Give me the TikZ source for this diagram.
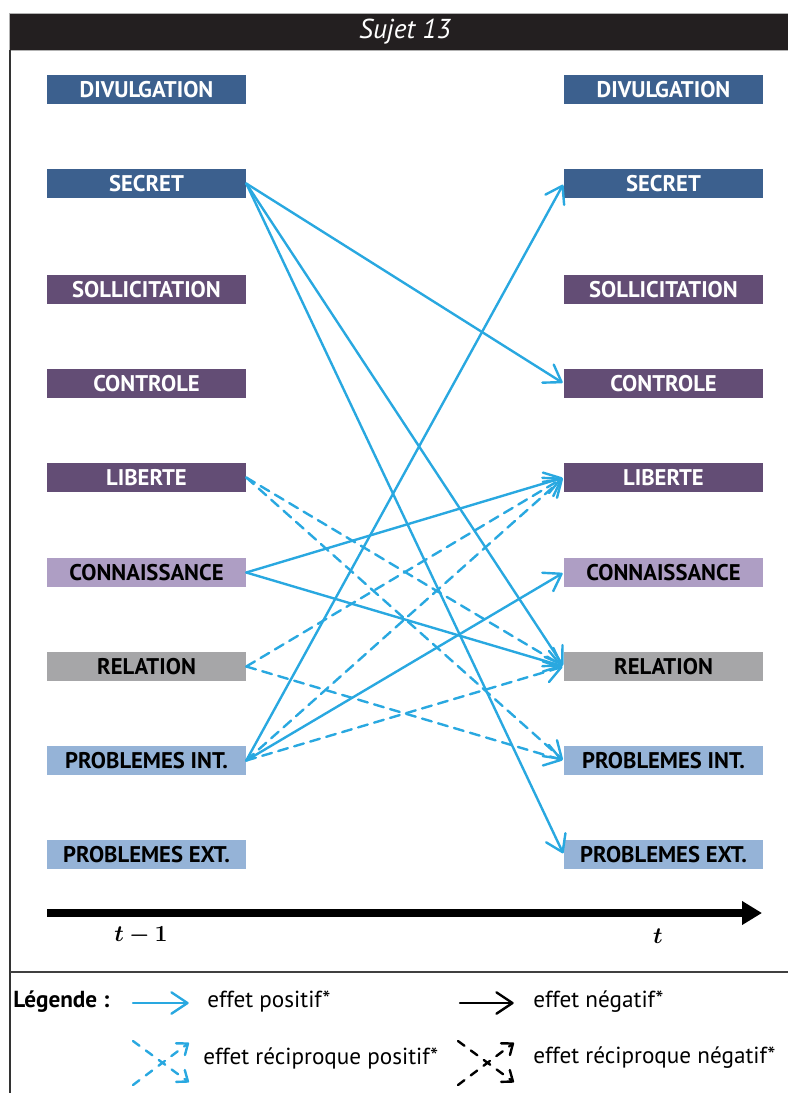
\documentclass[tikz,border=0pt]{standalone}
\usepackage{bm}
\usepackage{fontspec}
\setmainfont{PT Sans}
\usetikzlibrary{arrows.meta}
\definecolor{cDB}{RGB}{60,96,142}
\definecolor{cDP}{RGB}{99,77,117}
\definecolor{cLP}{RGB}{174,158,196}
\definecolor{cGR}{RGB}{166,166,168}
\definecolor{cLB}{RGB}{149,179,215}
\definecolor{cArr}{RGB}{41,168,224}
\definecolor{cHdr}{RGB}{35,31,32}
\begin{document}
\begin{tikzpicture}[x=0.75pt,y=-0.75pt,
  box/.style={minimum width=149.25pt,minimum height=21.75pt,inner sep=0pt,font=\bfseries\fontsize{17}{19}\selectfont},
  bDB/.style={box,fill=cDB,text=white},
  bDP/.style={box,fill=cDP,text=white},
  bLP/.style={box,fill=cLP,text=black},
  bGR/.style={box,fill=cGR,text=black},
  bLB/.style={box,fill=cLB,text=black},
  effpos/.style={draw=cArr,line width=1.8pt,line cap=round,shorten >=1pt,-{Straight Barb[length=12pt,width=16pt,line cap=round,line join=round]}},
  effneg/.style={effpos,draw=black},
  effrec/.style={effpos,dash pattern=on 7.5pt off 5pt},
  effrecneg/.style={effneg,dash pattern=on 7.5pt off 5pt},
  legcross/.style={dash pattern=on 6pt off 6pt,-{Straight Barb[length=7pt,width=11pt,line cap=round,line join=round]}},
  legtext/.style={anchor=west,inner sep=0pt,font=\fontsize{17.4}{19}\selectfont},
  axlabel/.style={font=\fontsize{17}{19}\selectfont}
]
\useasboundingbox (0,0) rectangle (788,1093);
% frame
\filldraw[fill=cHdr,draw=gray!60,line width=0.5pt] (9,13) rectangle (790,50);
\node[text=white,font=\itshape\fontsize{20.5}{22}\selectfont] (title) at (405,32) {Sujet 13};
\draw[line width=1.5pt,draw=black!80] (10,50) -- (10,1095);
\draw[line width=1.5pt,draw=black!75] (10,972) -- (790,972);
% left column
\node[bDB] (lDiv) at (146.5,89.5) {DIVULGATION};
\node[bDB] (lSec) at (146.5,183.5) {SECRET};
\node[bDP] (lSol) at (146.5,289.5) {SOLLICITATION};
\node[bDP] (lCon) at (146.5,383.5) {CONTROLE};
\node[bDP] (lLib) at (146.5,477.5) {LIBERTE};
\node[bLP] (lCnn) at (146.5,572.5) {CONNAISSANCE};
\node[bGR] (lRel) at (146.5,666.5) {RELATION};
\node[bLB] (lPI) at (146.5,760.5) {PROBLEMES INT.};
\node[bLB] (lPE) at (146.5,854.5) {PROBLEMES EXT.};
% right column
\node[bDB] (rDiv) at (663.5,89.5) {DIVULGATION};
\node[bDB] (rSec) at (663.5,183.5) {SECRET};
\node[bDP] (rSol) at (663.5,289.5) {SOLLICITATION};
\node[bDP] (rCon) at (663.5,383.5) {CONTROLE};
\node[bDP] (rLib) at (663.5,477.5) {LIBERTE};
\node[bLP] (rCnn) at (663.5,572.5) {CONNAISSANCE};
\node[bGR] (rRel) at (663.5,666.5) {RELATION};
\node[bLB] (rPI) at (663.5,760.5) {PROBLEMES INT.};
\node[bLB] (rPE) at (663.5,854.5) {PROBLEMES EXT.};
% effects
\draw[effpos] (lSec.east) -- (rCon.west);
\draw[effpos] (lSec.east) -- (rRel.west);
\draw[effpos] (lSec.east) -- (rPE.west);
\draw[effpos] (lPI.east) -- (rSec.west);
\draw[effpos] (lPI.east) -- (rCnn.west);
\draw[effpos] (lCnn.east) -- (rLib.west);
\draw[effpos] (lCnn.east) -- (rRel.west);
\draw[effrec] (lLib.east) -- (rRel.west);
\draw[effrec] (lLib.east) -- (rPI.west);
\draw[effrec] (lRel.east) -- (rLib.west);
\draw[effrec] (lRel.east) -- (rPI.west);
\draw[effrec] (lPI.east) -- (rLib.west);
\draw[effrec] (lPI.east) -- (rRel.west);
% time axis
\coordinate (axL) at (47,913);
\coordinate (axR) at (762,913);
\draw[line width=6pt,-{Triangle[length=15pt,width=17pt]}] (axL) -- (axR);
\node[axlabel] (tm1) at (141,936) {$\bm{t-1}$};
\node[axlabel] (tt) at (658,936) {$\bm{t}$};
% legend
\node[legtext,font=\bfseries\fontsize{17.4}{19}\selectfont] (legT) at (13,1002) {Légende :};
\coordinate (lgA1) at (133,1003);
\coordinate (lgA2) at (190,1003);
\draw[effpos] (lgA1) -- (lgA2);
\node[legtext] (lgT1) at (207,1002) {effet positif*};
\coordinate (lgB1) at (460,1003);
\coordinate (lgB2) at (515,1003);
\draw[effneg] (lgB1) -- (lgB2);
\node[legtext] (lgT2) at (533,1002) {effet négatif*};
\coordinate (lgC1) at (133,1041);
\coordinate (lgC2) at (190,1083);
\coordinate (lgC3) at (133,1085);
\coordinate (lgC4) at (190,1042);
\draw[effrec,legcross] (lgC1) -- (lgC2);
\draw[effrec,legcross] (lgC3) -- (lgC4);
\node[legtext] (lgT3) at (203,1058) {effet réciproque positif*};
\coordinate (lgD1) at (458,1041);
\coordinate (lgD2) at (515,1083);
\coordinate (lgD3) at (458,1085);
\coordinate (lgD4) at (515,1042);
\draw[effrecneg,legcross] (lgD1) -- (lgD2);
\draw[effrecneg,legcross] (lgD3) -- (lgD4);
\node[legtext] (lgT4) at (533,1058) {effet réciproque négatif*};
\end{tikzpicture}
\end{document}
